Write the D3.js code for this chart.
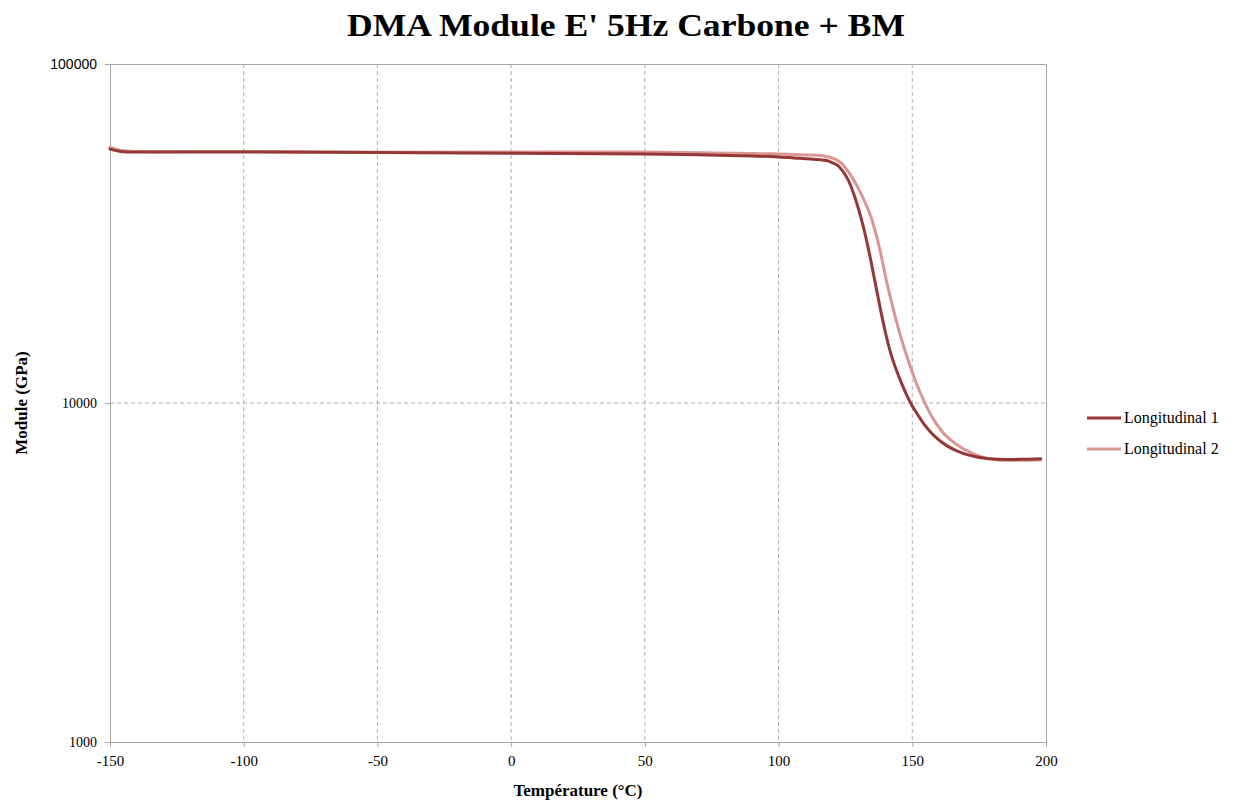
<!DOCTYPE html>
<html><head><meta charset="utf-8">
<script src="https://cdn.jsdelivr.net/npm/d3@7"></script>
<style>body{margin:0;background:#fff;}svg{display:block;}</style>
</head><body>
<svg id="c" width="1246" height="801"></svg>
<script>
const title = "DMA Module E' 5Hz Carbone + BM";
const xLabel = "Température (°C)";
const yLabel = "Module (GPa)";
const xTicks = [-150, -100, -50, 0, 50, 100, 150, 200];
const yTicks = [1000, 10000, 100000];
const seriesNames = ["Longitudinal 1", "Longitudinal 2"];

const temp1 = [-150,-146,-140,-100,-50,0,50,70,90,100,108,115,118,120,122,124,126,128,130,132,134,136,138,140,142,144,146,148,150,152,154.5,158,163,169,175.7,182,190,198];
const mod1  = [56100,55200,55000,55000,54800,54500,54260,53950,53530,53170,52700,52270,51900,51200,50300,48300,45500,41650,37100,32380,27510,22900,19060,16090,13960,12530,11430,10520,9800,9250,8630,8028,7473,7100,6896,6820,6820,6850];

const temp2 = [-150,-146,-140,-100,-50,0,50,70,90,100,110,116,120,122,124,126,128,130,132,134,136,138,140,142,144,146,148,150,152,154,156,158,160,163,169,175.7,182,190,198];
const mod2  = [56700,55570,55200,55200,54900,55010,55010,54750,54450,54260,53900,53700,52800,52000,50470,48190,45600,42660,39630,36390,32430,28050,23600,20180,17500,15380,13710,12330,11190,10280,9530,8930,8470,7940,7330,6944,6790,6780,6790];

const colors = ["#953735", "#d99694"];

const svg = d3.select("#c");
const m = {l:110, r:1046, t:64, b:742};
const x = d3.scaleLinear().domain([-150,200]).range([m.l, m.r]);
const y = d3.scaleLog().domain([1000,100000]).range([m.b, m.t]);

// grid
svg.append("g").selectAll("line").data(xTicks.slice(1, -1)).join("line")
  .attr("x1", d=>x(d)).attr("x2", d=>x(d)).attr("y1", m.t).attr("y2", m.b)
  .attr("stroke", "#b0b0b0").attr("stroke-width", 1).attr("stroke-dasharray", "4,3");
svg.append("g").selectAll("line").data([10000]).join("line")
  .attr("x1", m.l).attr("x2", m.r).attr("y1", d=>y(d)).attr("y2", d=>y(d))
  .attr("stroke", "#b0b0b0").attr("stroke-width", 1).attr("stroke-dasharray", "4,3");

// border top/right
svg.append("line").attr("x1", m.l).attr("x2", m.r).attr("y1", m.t+0.5).attr("y2", m.t+0.5).attr("stroke", "#a6a6a6");
svg.append("line").attr("x1", m.r+0.5).attr("x2", m.r+0.5).attr("y1", m.t).attr("y2", m.b).attr("stroke", "#a6a6a6");

// axes
const xAxis = d3.axisBottom(x).tickValues(xTicks).tickSize(5).tickPadding(8).tickFormat(d3.format("d"));
const gx = svg.append("g").attr("transform", `translate(0,${m.b})`).call(xAxis);
gx.select(".domain").attr("stroke", "#a6a6a6");
gx.selectAll(".tick line").attr("stroke", "#a6a6a6");
gx.selectAll("text").attr("font-family", "Liberation Serif, serif").attr("font-size", 15).attr("fill", "#000")
  .text(d => d < 0 ? "-" + Math.abs(d) : d);

const yAxis = d3.axisLeft(y).tickValues(yTicks).tickSize(5).tickPadding(8).tickFormat(d3.format("d"));
const gy = svg.append("g").attr("transform", `translate(${m.l},0)`).call(yAxis);
gy.select(".domain").attr("stroke", "#a6a6a6");
gy.selectAll(".tick line").attr("stroke", "#a6a6a6");
gy.selectAll("text").attr("font-family", d => d === 100000 ? "Liberation Sans, sans-serif" : "Liberation Serif, serif")
  .attr("font-size", 14).attr("fill", "#000");

// lines
const line = d3.line().x(d=>x(d[0])).y(d=>y(d[1])).curve(d3.curveCatmullRom.alpha(0.5));
const data = [d3.zip(temp1, mod1), d3.zip(temp2, mod2)];
[1,0].forEach(i => {
  svg.append("path").datum(data[i]).attr("d", line)
    .attr("fill", "none").attr("stroke", colors[i]).attr("stroke-width", 3)
    .attr("stroke-linejoin", "round").attr("stroke-linecap", "round");
});

// title
svg.append("text").attr("x", 626).attr("y", 36).attr("text-anchor", "middle")
  .attr("font-family", "Liberation Serif, serif").attr("font-weight", "bold").attr("font-size", 31)
  .attr("textLength", 558).attr("lengthAdjust", "spacingAndGlyphs")
  .text(title);

// axis titles
svg.append("text").attr("x", (m.l+m.r)/2).attr("y", 796).attr("text-anchor", "middle")
  .attr("font-family", "Liberation Serif, serif").attr("font-weight", "bold").attr("font-size", 17)
  .text(xLabel);
svg.append("text").attr("transform", `translate(27,${(m.t+m.b)/2}) rotate(-90)`).attr("text-anchor", "middle")
  .attr("font-family", "Liberation Serif, serif").attr("font-weight", "bold").attr("font-size", 17)
  .text(yLabel);

// legend
const lg = svg.append("g");
seriesNames.forEach((n, i) => {
  const yy = 418 + i*31;
  lg.append("line").attr("x1", 1087).attr("x2", 1121).attr("y1", yy).attr("y2", yy)
    .attr("stroke", colors[i]).attr("stroke-width", 3);
  lg.append("text").attr("x", 1124).attr("y", yy+5).attr("font-family", "Liberation Serif, serif")
    .attr("font-size", 16).attr("fill", "#000").text(n);
});
</script>
</body></html>
